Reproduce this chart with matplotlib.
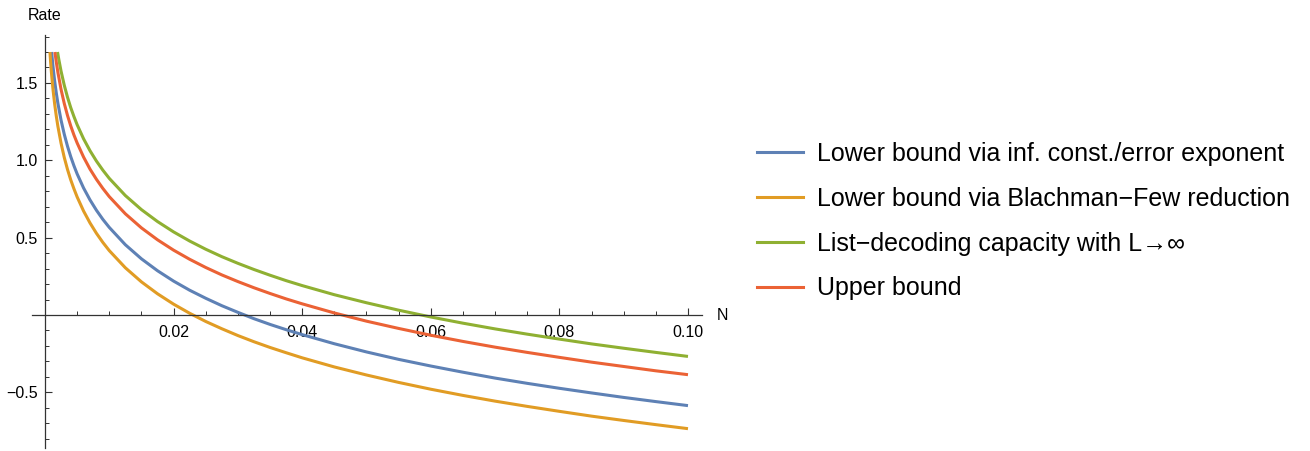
import matplotlib
matplotlib.use("Agg")
import matplotlib.pyplot as plt
from matplotlib.lines import Line2D

plt.rcParams['font.family'] = ['Liberation Sans', 'DejaVu Sans']

# ---- data ----
N_blue = [0.00103, 0.00125, 0.0015, 0.00175, 0.002, 0.0025, 0.003, 0.0035, 0.004, 0.0045, 0.005, 0.006,
          0.007, 0.008, 0.009, 0.01, 0.0125, 0.015, 0.0175, 0.02, 0.0225, 0.025, 0.0275, 0.03, 0.0325,
          0.035, 0.0375, 0.04, 0.045, 0.05, 0.055, 0.06, 0.065, 0.07, 0.075, 0.08, 0.085, 0.09, 0.095, 0.1]
R_blue = [1.70, 1.605, 1.514, 1.437, 1.370, 1.259, 1.168, 1.091, 1.024, 0.965, 0.912, 0.821,
          0.744, 0.677, 0.618, 0.566, 0.454, 0.363, 0.286, 0.219, 0.160, 0.108, 0.060, 0.017, -0.024,
          -0.061, -0.095, -0.127, -0.186, -0.239, -0.287, -0.330, -0.370, -0.408, -0.442, -0.474,
          -0.504, -0.533, -0.560, -0.586]

N_orange = [0.00077, 0.00088, 0.001, 0.00125, 0.0015, 0.00175, 0.002, 0.0025, 0.003, 0.0035, 0.004,
            0.0045, 0.005, 0.006, 0.007, 0.008, 0.009, 0.01, 0.0125, 0.015, 0.0175, 0.02, 0.0225,
            0.025, 0.0275, 0.03, 0.0325, 0.035, 0.0375, 0.04, 0.045, 0.05, 0.055, 0.06, 0.065, 0.07,
            0.075, 0.08, 0.085, 0.09, 0.095, 0.1]
R_orange = [1.70, 1.632, 1.568, 1.456, 1.365, 1.288, 1.221, 1.110, 1.018, 0.941, 0.874,
            0.816, 0.763, 0.672, 0.595, 0.528, 0.469, 0.416, 0.305, 0.214, 0.137, 0.070, 0.011,
            -0.042, -0.089, -0.133, -0.173, -0.210, -0.244, -0.277, -0.336, -0.388, -0.436, -0.480,
            -0.520, -0.557, -0.591, -0.623, -0.654, -0.682, -0.709, -0.735]

N_green = [0.00195, 0.00215, 0.0025, 0.003, 0.0035, 0.004, 0.0045, 0.005, 0.006, 0.007, 0.008, 0.009,
           0.01, 0.0125, 0.015, 0.0175, 0.02, 0.0225, 0.025, 0.0275, 0.03, 0.0325, 0.035, 0.0375,
           0.04, 0.045, 0.05, 0.055, 0.06, 0.065, 0.07, 0.075, 0.08, 0.085, 0.09, 0.095, 0.1]
R_green = [1.70, 1.652, 1.576, 1.485, 1.408, 1.341, 1.283, 1.230, 1.139, 1.062, 0.995, 0.936,
           0.883, 0.772, 0.681, 0.604, 0.537, 0.478, 0.425, 0.377, 0.334, 0.294, 0.257, 0.222,
           0.190, 0.131, 0.079, 0.031, -0.013, -0.053, -0.090, -0.124, -0.156, -0.187, -0.215,
           -0.242, -0.268]

N_red = [0.00154, 0.00175, 0.002, 0.0025, 0.003, 0.0035, 0.004, 0.0045, 0.005, 0.006, 0.007, 0.008,
         0.009, 0.01, 0.0125, 0.015, 0.0175, 0.02, 0.0225, 0.025, 0.0275, 0.03, 0.0325, 0.035,
         0.0375, 0.04, 0.045, 0.05, 0.055, 0.06, 0.065, 0.07, 0.075, 0.08, 0.085, 0.09, 0.095, 0.1]
R_red = [1.70, 1.637, 1.570, 1.458, 1.367, 1.290, 1.223, 1.164, 1.112, 1.021, 0.943, 0.877,
         0.818, 0.765, 0.654, 0.563, 0.486, 0.419, 0.360, 0.307, 0.259, 0.216, 0.176, 0.139,
         0.104, 0.072, 0.013, -0.040, -0.087, -0.131, -0.171, -0.208, -0.242, -0.274, -0.305,
         -0.333, -0.361, -0.386]

labels = ["Lower bound via inf. const./error exponent",
          "Lower bound via Blachman\u2212Few reduction",
          "List\u2212decoding capacity with L\u2192\u221e",
          "Upper bound"]
colors = ["#5E81B5", "#E19C24", "#8FB032", "#EB6235"]

x_major = [0.02, 0.04, 0.06, 0.08, 0.10]
x_major_labels = ["0.02", "0.04", "0.06", "0.08", "0.10"]
y_major = [-0.5, 0.5, 1.0, 1.5]
y_major_labels = ["\u22120.5", "0.5", "1.0", "1.5"]

# ---- figure ----
W, H = 1310, 451
fig = plt.figure(figsize=(W / 100, H / 100), dpi=100)
l, r, t, b = 32, 702, 35, 448
ax = fig.add_axes([l / W, 1 - b / H, (r - l) / W, (b - t) / H])
ax.set_xlim(-0.00202, 0.10218)
ax.set_ylim(-0.860, 1.810)

series = [(N_blue, R_blue), (N_orange, R_orange), (N_green, R_green), (N_red, R_red)]
for (xs, ys), c in zip(series, colors):
    ax.plot(xs, ys, color=c, lw=2.2, solid_capstyle='butt', solid_joinstyle='round')

axc = '0.2'
for s in ['top', 'right']:
    ax.spines[s].set_visible(False)
ax.spines['left'].set_position(('data', 0))
ax.spines['bottom'].set_position(('data', 0))
for s in ['left', 'bottom']:
    ax.spines[s].set_color(axc)
    ax.spines[s].set_linewidth(0.9)

ax.set_xticks(x_major, x_major_labels)
ax.set_xticks([i * 0.005 for i in range(1, 21) if i % 4 != 0], minor=True)
ax.set_yticks(y_major, y_major_labels)
ax.set_yticks([v / 10 for v in range(-8, 19) if v % 5 != 0], minor=True)
ax.tick_params(which='both', direction='in', colors=axc, labelcolor='black', labelsize=11.5)
ax.tick_params(which='major', length=5, width=0.8)
ax.tick_params(which='minor', length=3, width=0.7)
ax.tick_params(axis='x', which='major', pad=7)
ax.tick_params(axis='y', which='major', pad=5)

fig.text(45 / W, 1 - 15 / H, "Rate", fontsize=11.5, ha='center', va='center')
fig.text(722 / W, 1 - 315 / H, "N", fontsize=11.5, ha='center', va='center')

handles = [Line2D([0], [0], color=c, lw=2.2) for c in colors]
fig.legend(handles, labels, loc='center left', bbox_to_anchor=(757 / W, 1 - 221 / H),
           frameon=False, fontsize=18, handlelength=1.84, handletextpad=0.56,
           labelspacing=0.84, borderaxespad=0, borderpad=0)

fig.savefig("out.png", dpi=100)
